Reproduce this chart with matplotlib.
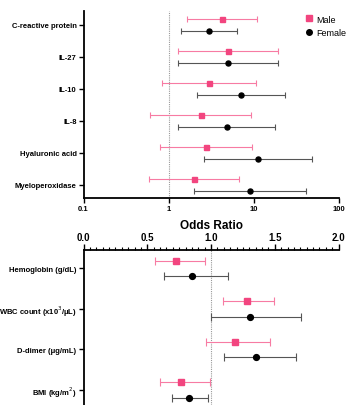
import matplotlib
matplotlib.use("Agg")
import matplotlib.pyplot as plt
import numpy as np
from matplotlib.lines import Line2D
from matplotlib.ticker import FixedLocator, MultipleLocator, FormatStrFormatter

plt.rcParams['font.family'] = ['Liberation Sans', 'DejaVu Sans']

# Biomarkers (log-scale odds ratios)
markers_top = ["C-reactive protein", "IL-27", "IL-10", "IL-8",
               "Hyaluronic acid", "Myeloperoxidase"]
male_or = [4.18, 4.92, 2.94, 2.37, 2.76, 1.96]
male_lo = [1.62, 1.28, 0.845, 0.605, 0.79, 0.58]
male_hi = [10.9, 19.1, 10.5, 9.35, 9.6, 6.62]
female_or = [2.94, 4.92, 7.07, 4.84, 11.2, 9.01]
female_lo = [1.38, 1.28, 2.16, 1.29, 2.62, 2.01]
female_hi = [6.34, 19.1, 23.5, 17.9, 48.4, 41.1]

# Clinical variables (linear-scale odds ratios)
markers_bot = ["Hemoglobin (g/dL)", "WBC count (x10$^3$/μL)",
               "D-dimer (μg/mL)", "BMI (kg/m$^2$)"]
male_or2 = [0.726, 1.281, 1.189, 0.765]
male_lo2 = [0.561, 1.097, 0.959, 0.60]
male_hi2 = [0.954, 1.498, 1.466, 0.99]
female_or2 = [0.849, 1.307, 1.354, 0.828]
female_lo2 = [0.634, 0.998, 1.10, 0.697]
female_hi2 = [1.137, 1.707, 1.666, 0.98]

PINK = "#F2457F"
PINK_BAR = "#F77BA3"
BLACK = "#000000"
GREY_BAR = "#555555"

fig = plt.figure(figsize=(3.49, 4.06), dpi=100)

W, H = 349.0, 406.0


def style_axes(ax, ylabelsize):
    ax.spines["right"].set_visible(False)
    for s in ["left", "bottom", "top"]:
        ax.spines[s].set_linewidth(1.3)
    ax.tick_params(axis="both", width=1.0, length=3.5, pad=1.5)
    ax.tick_params(axis="y", labelsize=ylabelsize)
    for lab in ax.get_xticklabels() + ax.get_yticklabels():
        lab.set_fontweight("bold")


def draw_pairs(ax, ypos, off, m, mlo, mhi, f, flo, fhi, ms, cap):
    m = np.array(m); f = np.array(f)
    ax.errorbar(m, ypos - off,
                xerr=[m - np.array(mlo), np.array(mhi) - m],
                fmt="s", color=PINK, ecolor=PINK_BAR, elinewidth=0.8,
                capsize=cap, capthick=0.8, markersize=ms, zorder=3)
    ax.errorbar(f, ypos + off,
                xerr=[f - np.array(flo), np.array(fhi) - f],
                fmt="o", color=BLACK, ecolor=GREY_BAR, elinewidth=0.8,
                capsize=cap, capthick=0.8, markersize=ms, zorder=3)


# ---- upper panel ----
ax1 = fig.add_axes([83.5 / W, 1 - 199.3 / H, 255.5 / W, 187.3 / H])
y1 = np.arange(len(markers_top))
ax1.set_xscale("log")
ax1.set_xlim(0.1, 100)
ax1.set_ylim(5.416, -0.428)
ax1.axvline(1, color="#999999", lw=0.8, ls=(0, (1, 1)), zorder=1)
draw_pairs(ax1, y1, 0.19, male_or, male_lo, male_hi,
           female_or, female_lo, female_hi, ms=3.6, cap=2.2)
ax1.set_yticks(y1)
ax1.set_yticklabels(markers_top)
ax1.xaxis.set_major_locator(FixedLocator([0.1, 1, 10, 100]))
ax1.set_xticklabels(["0.1", "1", "10", "100"])
ax1.xaxis.set_minor_locator(FixedLocator([]))
ax1.spines["top"].set_visible(False)
style_axes(ax1, 5.5)
ax1.tick_params(axis="x", labelsize=5.5)
ax1.set_xlabel("Odds Ratio", fontsize=8.5, fontweight="bold", labelpad=5)

handles = [
    Line2D([], [], marker="s", ls="none", color=PINK, markersize=4.5),
    Line2D([], [], marker="o", ls="none", color=BLACK, markersize=4.0),
]
ax1.legend(handles, ["Male", "Female"], loc="upper left",
           bbox_to_anchor=(0.85, 1.0), frameon=False, fontsize=6.5,
           handletextpad=0.3, labelspacing=0.45, handlelength=1.0,
           borderaxespad=0)

# ---- lower panel ----
top2 = 250.7
ax2 = fig.add_axes([83.5 / W, 0, 255.0 / W, (H - top2) / H])
y2 = np.arange(len(markers_bot))
ax2.set_xlim(0, 2.0)
ax2.set_ylim(3 + (H - 391) / 40.6, -0.458)
ax2.axvline(1, color="#999999", lw=0.8, ls=(0, (1, 1)), zorder=1)
draw_pairs(ax2, y2, 0.19, male_or2, male_lo2, male_hi2,
           female_or2, female_lo2, female_hi2, ms=4.2, cap=2.6)
ax2.set_yticks(y2)
ax2.set_yticklabels(markers_bot)
ax2.xaxis.set_major_locator(MultipleLocator(0.5))
ax2.xaxis.set_minor_locator(MultipleLocator(0.05))
ax2.xaxis.set_major_formatter(FormatStrFormatter("%.1f"))
ax2.xaxis.tick_top()
ax2.spines["bottom"].set_visible(False)
style_axes(ax2, 5.5)
ax2.tick_params(axis="x", which="minor", length=2.5, width=0.8, top=True)
ax2.tick_params(axis="x", which="major", labelsize=7, length=4)
for lab in ax2.get_xticklabels():
    lab.set_fontweight("bold")

fig.savefig("out.png", dpi=100)
